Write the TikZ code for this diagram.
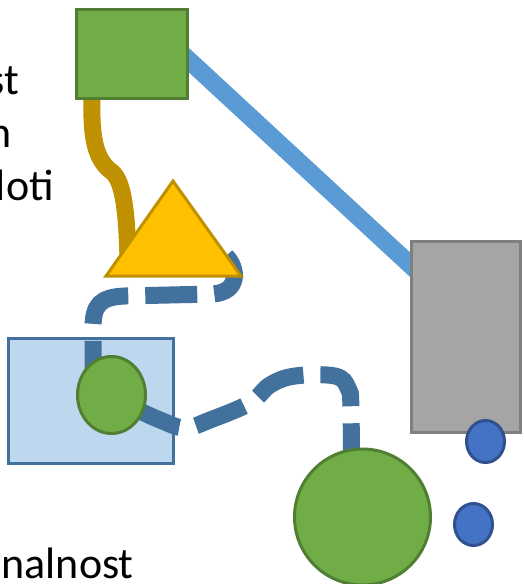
\documentclass[tikz,border=0pt]{standalone}
\usepackage{fontspec}
\setmainfont{Carlito}
\usetikzlibrary{shapes.geometric}
\definecolor{leafgreen}{HTML}{70AD47}
\definecolor{leafdark}{HTML}{507E32}
\definecolor{paleblue}{HTML}{BDD7EE}
\definecolor{linkblue}{HTML}{41719C}
\definecolor{skyblue}{HTML}{5B9BD5}
\definecolor{stone}{HTML}{A5A5A5}
\definecolor{stonedark}{HTML}{7F7F7F}
\definecolor{dotblue}{HTML}{4472C4}
\definecolor{dotdark}{HTML}{2F528F}
\definecolor{amber}{HTML}{FFC000}
\definecolor{gold}{HTML}{BF9000}
\pgfdeclarelayer{base}
\pgfdeclarelayer{links}
\pgfsetlayers{base,links,main}

\begin{document}
\begin{tikzpicture}[
			x=1pt, y=-1pt,
			box/.style={rectangle,draw,line width=3pt,inner sep=0pt},
			blob/.style={ellipse,draw,line width=3pt,inner sep=0pt},
			word/.style={anchor=base east,inner sep=0pt,font=\fontsize{44}{52}\selectfont},
			wire/.style={line width=17pt,draw=linkblue,dash pattern=on 52pt off 17pt}
			]
			\clip (0,0) rectangle (523,584);
			\coordinate (apex) at (173,181);
			\coordinate (tl) at (106,276);
			\coordinate (tr) at (241,276);
			\begin{pgfonlayer}{base}
				\node[box, fill=paleblue, draw=linkblue, minimum width=165pt, minimum height=125pt] (host) at (91,401) {};
			\end{pgfonlayer}
			\node[box, fill=leafgreen, draw=leafdark, minimum width=111pt, minimum height=89pt] (top) at (132,54) {};
			\node[box, fill=stone, draw=stonedark, minimum width=108.5pt, minimum height=191pt] (tower) at (465.75,337) {};
			\draw[fill=amber, draw=gold, line width=3pt] (apex) -- (tr) -- (tl) -- cycle;
			\node[blob, fill=leafgreen, draw=leafdark, minimum width=68pt, minimum height=77pt] (small) at (111.5,395) {};
			\node[blob, fill=leafgreen, draw=leafdark, minimum size=136pt] (big) at (362.5,517) {};
			\node[blob, fill=dotblue, draw=dotdark, minimum width=38pt, minimum height=42pt] (dotA) at (485.5,441.5) {};
			\node[blob, fill=dotblue, draw=dotdark, minimum width=38pt, minimum height=42pt] (dotB) at (473.5,524.5) {};
			\begin{pgfonlayer}{links}
				\draw[line width=18pt, draw=skyblue] ([shift={(-9,-2)}]top.east) -- ([shift={(8,-65)}]tower.west);
				\draw[line width=17pt, draw=gold] ([xshift=-40pt]top.south) .. controls (91,140) and (96,160) .. (112,172)
					.. controls (122,180) and (127,205) .. ([shift={(-113,-14)}]tr);
				\draw[wire] ([shift={(-15,-20)}]tr) .. controls (238,268) and (240,292) .. (213,294) -- (125,296)
					.. controls (100,297) and (93,305) .. (93,328) -- ([xshift=-18.5pt]small.center);
				\draw[wire] plot[smooth, tension=0.6] coordinates {([shift={(20,12)}]small.center) (160,420) (185,428) (210,420)
					(250,403) (270,385) (295,376) (335,376) (348,388) (351,410) ([xshift=-11pt]big.center)};
			\end{pgfonlayer}
			\node[word] (w1) at (19,94) {st};
			\node[word] (w2) at (12,147) {n};
			\node[word] (w3) at (54,200) {loti};
			\node[word] (w4) at (134,578) {nalnost};
		\end{tikzpicture}
\end{document}
